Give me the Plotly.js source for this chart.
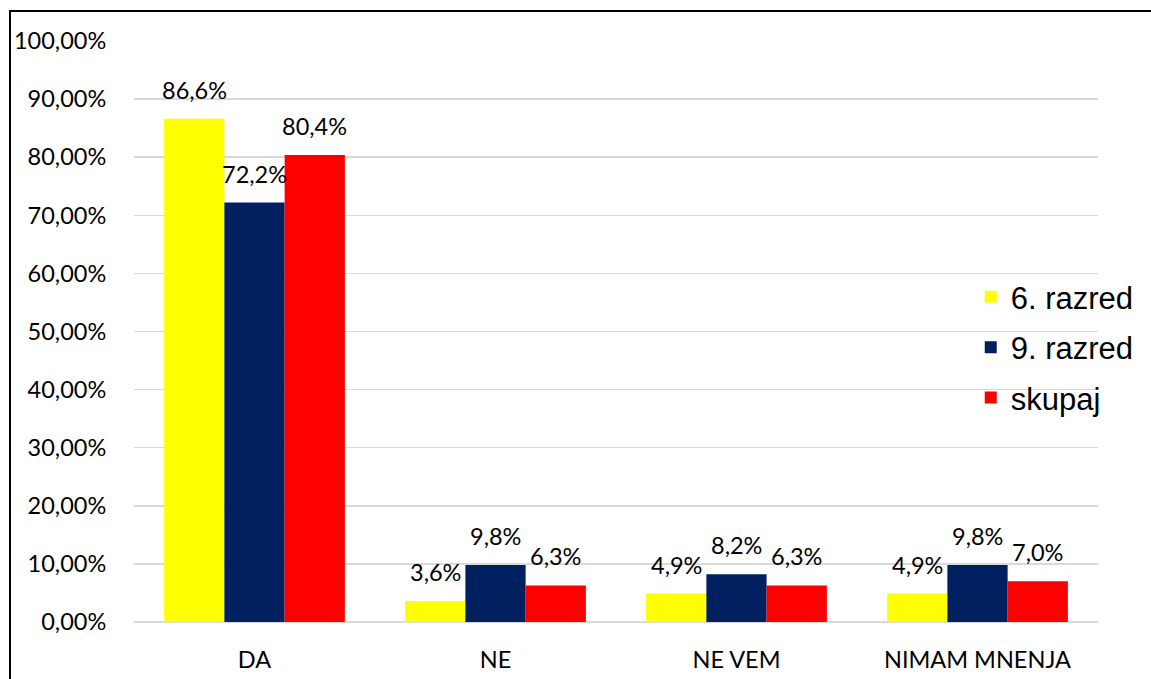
<!DOCTYPE html>
<html>
<head>
<meta charset="utf-8">
<script src="https://cdn.plot.ly/plotly-3.0.1.min.js"></script>
<style>
  html, body { margin: 0; padding: 0; background: #fff; overflow: hidden; }
  #wrap { position: relative; width: 1151px; height: 679px; }
  #chart { position: absolute; left: 0; top: 0; width: 1151px; height: 679px; }
  #frame { position: absolute; left: 9px; top: 10px; width: 1150px; height: 680px;
           border-left: 2px solid #000; border-top: 2px solid #000; pointer-events: none; }
</style>
</head>
<body>
<div id="wrap">
  <div id="chart"></div>
  <div id="frame"></div>
</div>
<script>
// answers
const categories = ['DA', 'NE', 'NE VEM', 'NIMAM MNENJA'];

// percentages per group
const razred6 = [86.6, 3.6, 4.9, 4.9];
const razred9 = [72.2, 9.8, 8.2, 9.8];
const skupaj = [80.4, 6.3, 6.3, 7.0];

const seriesNames = ['6. razred', '9. razred', 'skupaj'];
const seriesColors = ['#FFFF00', '#002060', '#FF0000'];
const seriesValues = [razred6, razred9, skupaj];

const labelFont = { family: 'Lato, "Open Sans", sans-serif', size: 23.5, color: '#000' };

const plotData = seriesValues.map((vals, i) => ({
  x: categories,
  y: vals,
  type: 'bar',
  name: seriesNames[i],
  legendgroup: 'g' + i,
  marker: { color: seriesColors[i] },
  hoverinfo: 'skip'
}));

// data labels sit a bit higher than plotly's own outside text, so use annotations
const barShift = [-60, 0, 60];
const annotations = [];
seriesValues.forEach((vals, i) => {
  vals.forEach((v, j) => {
    annotations.push({
      x: categories[j],
      y: v,
      text: v.toFixed(1).replace('.', ',') + '%',
      showarrow: false,
      xanchor: 'center',
      yanchor: 'bottom',
      xshift: barShift[i],
      yshift: 13,
      font: labelFont
    });
  });
});

const layout = {
  width: 1151,
  height: 679,
  margin: { l: 134, r: 53, t: 41, b: 57 },
  paper_bgcolor: '#fff',
  plot_bgcolor: '#fff',
  barmode: 'group',
  bargap: 0.25,
  bargroupgap: 0,
  separators: ',.',
  showlegend: true,
  legend: {
    x: 0.868,
    y: 0.473,
    xanchor: 'left',
    yanchor: 'middle',
    bgcolor: 'rgba(0,0,0,0)',
    traceorder: 'grouped',
    tracegroupgap: 7,
    font: { family: '"Liberation Sans", Arial, sans-serif', size: 31, color: '#000' },
    itemwidth: 30
  },
  xaxis: {
    type: 'category',
    showgrid: false,
    showline: false,
    zeroline: false,
    ticks: 'outside',
    ticklen: 17,
    tickcolor: 'rgba(0,0,0,0)',
    tickfont: labelFont
  },
  yaxis: {
    range: [0, 100],
    dtick: 10,
    tickformat: '.2f',
    ticksuffix: '%',
    showgrid: true,
    gridcolor: '#d9d9d9',
    gridwidth: 1.5,
    zeroline: true,
    zerolinecolor: '#d9d9d9',
    zerolinewidth: 1.5,
    showline: false,
    ticks: 'outside',
    ticklen: 22,
    tickcolor: 'rgba(0,0,0,0)',
    tickfont: labelFont
  },
  annotations: annotations
};

Plotly.newPlot('chart', plotData, layout, { displayModeBar: false, staticPlot: true });
</script>
</body>
</html>
